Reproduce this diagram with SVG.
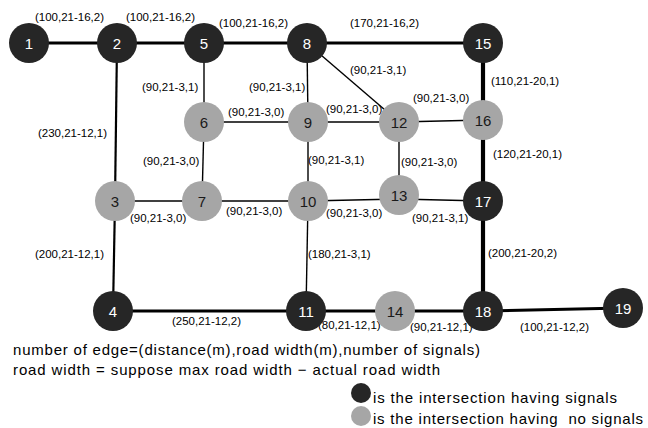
<svg xmlns="http://www.w3.org/2000/svg" width="648" height="428" viewBox="0 0 648 428">
  <style>
    .bg { fill: #ffffff; }
    .sig circle { fill: #262626; }
    .nosig circle { fill: #a6a6a6; }
    .node text { font-family: "Liberation Sans", Arial, sans-serif; font-size: 15px; text-anchor: middle; dominant-baseline: central; }
    .sig text { fill: #ffffff; }
    .nosig text { fill: #1a1a1a; }
    .edge { stroke: #000000; fill: none; stroke-linecap: butt; }
    .e1 { stroke-width: 1.4; }
    .e2 { stroke-width: 2.2; }
    .e3 { stroke-width: 3; }
    .e4 { stroke-width: 4.2; }
    .lbl { font-family: "Liberation Sans", Arial, sans-serif; font-size: 11.5px; fill: #000000; }
    .note { font-family: "Liberation Sans", Arial, sans-serif; font-size: 15px; fill: #000000; }
  </style>

  <rect class="bg" x="0" y="0" width="648" height="428"/>

  <!-- road segments -->
  <g id="connectors">
    <line class="edge e3" x1="29" y1="43" x2="117" y2="43"/>
    <line class="edge e3" x1="117" y1="43" x2="204" y2="43"/>
    <line class="edge e3" x1="204" y1="43" x2="307" y2="43"/>
    <line class="edge e3" x1="307" y1="43" x2="483" y2="43"/>
    <line class="edge e2" x1="117" y1="43" x2="115" y2="201"/>
    <line class="edge e2" x1="115" y1="201" x2="113" y2="311"/>
    <line class="edge e1" x1="204" y1="43" x2="204" y2="122"/>
    <line class="edge e1" x1="307" y1="43" x2="308" y2="122"/>
    <line class="edge e1" x1="307" y1="43" x2="399" y2="122"/>
    <line class="edge e4" x1="483" y1="43" x2="483" y2="120"/>
    <line class="edge e1" x1="204" y1="122" x2="308" y2="122"/>
    <line class="edge e1" x1="308" y1="122" x2="399" y2="122"/>
    <line class="edge e1" x1="399" y1="122" x2="483" y2="120"/>
    <line class="edge e1" x1="204" y1="122" x2="202" y2="201"/>
    <line class="edge e1" x1="308" y1="122" x2="308" y2="201"/>
    <line class="edge e1" x1="399" y1="122" x2="399" y2="195"/>
    <line class="edge e4" x1="483" y1="120" x2="483" y2="201"/>
    <line class="edge e1" x1="115" y1="201" x2="202" y2="201"/>
    <line class="edge e1" x1="202" y1="201" x2="308" y2="201"/>
    <line class="edge e1" x1="308" y1="201" x2="399" y2="199"/>
    <line class="edge e1" x1="399" y1="199" x2="483" y2="201"/>
    <line class="edge e1" x1="308" y1="201" x2="306" y2="311"/>
    <line class="edge e4" x1="483" y1="201" x2="483" y2="311"/>
    <line class="edge e3" x1="113" y1="311" x2="306" y2="311"/>
    <line class="edge e3" x1="306" y1="311" x2="395" y2="311"/>
    <line class="edge e3" x1="395" y1="311" x2="483" y2="311"/>
    <line class="edge e3" x1="483" y1="311" x2="623" y2="308"/>
  </g>

  <!-- segment attributes -->
  <g id="edge-labels">
    <text class="lbl" x="35" y="21">(100,21-16,2)</text>
    <text class="lbl" x="126" y="21">(100,21-16,2)</text>
    <text class="lbl" x="219" y="27">(100,21-16,2)</text>
    <text class="lbl" x="350" y="27">(170,21-16,2)</text>
    <text class="lbl" x="142" y="91">(90,21-3,1)</text>
    <text class="lbl" x="249" y="91">(90,21-3,1)</text>
    <text class="lbl" x="350" y="74">(90,21-3,1)</text>
    <text class="lbl" x="491" y="85">(110,21-20,1)</text>
    <text class="lbl" x="228" y="116">(90,21-3,0)</text>
    <text class="lbl" x="326" y="113">(90,21-3,0)</text>
    <text class="lbl" x="413" y="102">(90,21-3,0)</text>
    <text class="lbl" x="38" y="137">(230,21-12,1)</text>
    <text class="lbl" x="143" y="165">(90,21-3,0)</text>
    <text class="lbl" x="308" y="164">(90,21-3,1)</text>
    <text class="lbl" x="401" y="166">(90,21-3,0)</text>
    <text class="lbl" x="493" y="158">(120,21-20,1)</text>
    <text class="lbl" x="130" y="222">(90,21-3,0)</text>
    <text class="lbl" x="226" y="215">(90,21-3,0)</text>
    <text class="lbl" x="326" y="217">(90,21-3,0)</text>
    <text class="lbl" x="412" y="222">(90,21-3,1)</text>
    <text class="lbl" x="35" y="258">(200,21-12,1)</text>
    <text class="lbl" x="308" y="258">(180,21-3,1)</text>
    <text class="lbl" x="488" y="257">(200,21-20,2)</text>
    <text class="lbl" x="172" y="325">(250,21-12,2)</text>
    <text class="lbl" x="318" y="329">(80,21-12,1)</text>
    <text class="lbl" x="410" y="331">(90,21-12,1)</text>
    <text class="lbl" x="520" y="331">(100,21-12,2)</text>
  </g>

  <!-- intersections -->
  <g id="n1" class="node sig"><circle cx="29" cy="43" r="20"/><text x="29" y="43">1</text></g>
  <g id="n2" class="node sig"><circle cx="117" cy="43" r="20"/><text x="117" y="43">2</text></g>
  <g id="n5" class="node sig"><circle cx="204" cy="43" r="20"/><text x="204" y="43">5</text></g>
  <g id="n8" class="node sig"><circle cx="307" cy="43" r="20"/><text x="307" y="43">8</text></g>
  <g id="n15" class="node sig"><circle cx="483" cy="43" r="20"/><text x="483" y="43">15</text></g>
  <g id="n6" class="node nosig"><circle cx="204" cy="122" r="20"/><text x="204" y="122">6</text></g>
  <g id="n9" class="node nosig"><circle cx="308" cy="122" r="20"/><text x="308" y="122">9</text></g>
  <g id="n12" class="node nosig"><circle cx="399" cy="122" r="20"/><text x="399" y="122">12</text></g>
  <g id="n16" class="node nosig"><circle cx="483" cy="120" r="20"/><text x="483" y="120">16</text></g>
  <g id="n3" class="node nosig"><circle cx="115" cy="201" r="20"/><text x="115" y="201">3</text></g>
  <g id="n7" class="node nosig"><circle cx="202" cy="201" r="20"/><text x="202" y="201">7</text></g>
  <g id="n10" class="node nosig"><circle cx="308" cy="201" r="20"/><text x="308" y="201">10</text></g>
  <g id="n13" class="node nosig"><circle cx="399" cy="195" r="20"/><text x="399" y="195">13</text></g>
  <g id="n17" class="node sig"><circle cx="483" cy="201" r="20"/><text x="483" y="201">17</text></g>
  <g id="n4" class="node sig"><circle cx="113" cy="311" r="20"/><text x="113" y="311">4</text></g>
  <g id="n11" class="node sig"><circle cx="306" cy="311" r="20"/><text x="306" y="311">11</text></g>
  <g id="n14" class="node nosig"><circle cx="395" cy="311" r="20"/><text x="395" y="311">14</text></g>
  <g id="n18" class="node sig"><circle cx="483" cy="311" r="20"/><text x="483" y="311">18</text></g>
  <g id="n19" class="node sig"><circle cx="623" cy="308" r="20"/><text x="623" y="308">19</text></g>

  <!-- notes and legend -->
  <g id="legend">
    <text class="note" x="13" y="355" textLength="467">number of edge=(distance(m),road width(m),number of signals)</text>
    <text class="note" x="13" y="375" textLength="427">road width = suppose max road width − actual road width</text>
    <circle cx="361" cy="393" r="10" fill="#262626"/>
    <text class="note" x="373" y="403" textLength="244">is the intersection having signals</text>
    <circle cx="361" cy="416" r="10" fill="#a6a6a6"/>
    <text class="note" x="373" y="424" textLength="270" xml:space="preserve">is the intersection having  no signals</text>
  </g>
</svg>
